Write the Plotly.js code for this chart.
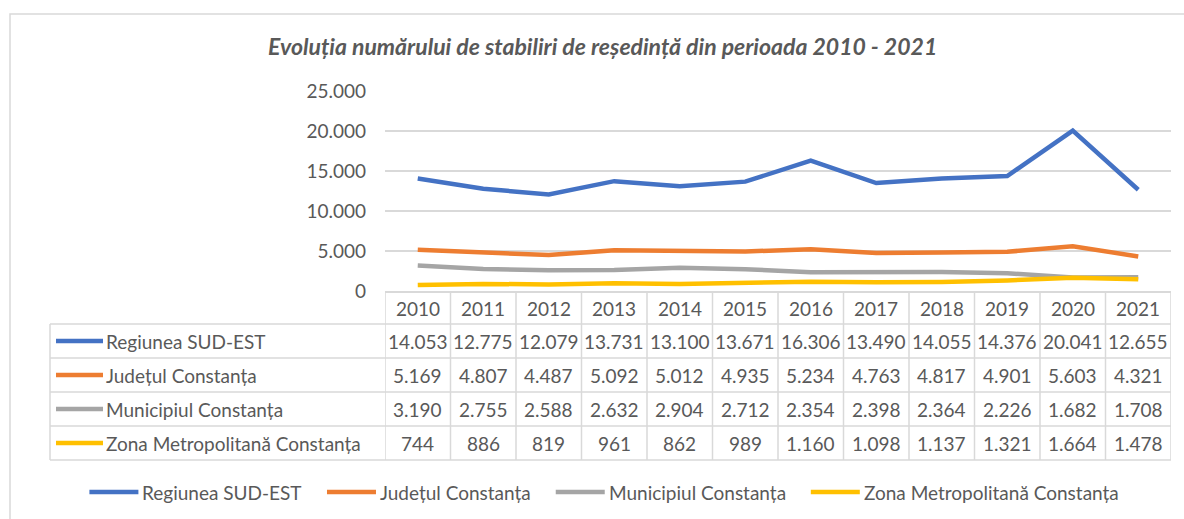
<!DOCTYPE html>
<html>
<head>
<meta charset="utf-8">
<script src="https://cdn.plot.ly/plotly-3.0.1.min.js"></script>
<style>html,body{margin:0;padding:0;background:#fff;}#chart{width:1184px;height:519px;}</style>
</head>
<body>
<div id="chart"></div>
<script>
const years = ['2010','2011','2012','2013','2014','2015','2016','2017','2018','2019','2020','2021'];
const seriesNames = ['Regiunea SUD-EST','Județul Constanța','Municipiul Constanța','Zona Metropolitană Constanța'];
const regiuneaSudEst = [14053,12775,12079,13731,13100,13671,16306,13490,14055,14376,20041,12655];
const judetulConstanta = [5169,4807,4487,5092,5012,4935,5234,4763,4817,4901,5603,4321];
const municipiulConstanta = [3190,2755,2588,2632,2904,2712,2354,2398,2364,2226,1682,1708];
const zonaMetropolitana = [744,886,819,961,862,989,1160,1098,1137,1321,1664,1478];
const seriesValues = [regiuneaSudEst, judetulConstanta, municipiulConstanta, zonaMetropolitana];
const colors = ['#4472C4','#ED7D31','#A5A5A5','#FFC000'];

const FONT = 'Lato, "Open Sans", sans-serif';
const TXT = '#595959';
const GRID = '#D9D9D9';
const FS = 19;

// plot area in pixels
const L = 385, R = 1171, T = 91, B = 291;
const px = X => (X - L) / (R - L);
const py = Y => (B - Y) / (B - T);

function fmt(n){ return String(n).replace(/\B(?=(\d{3})+(?!\d))/g, '.'); }

const measureCtx = document.createElement('canvas').getContext('2d');
measureCtx.font = FS + 'px Lato';
const textW = s => measureCtx.measureText(s).width;

const traces = seriesNames.map((name, i) => ({
  type: 'scatter', mode: 'lines', name: name,
  x: years, y: seriesValues[i],
  line: {color: colors[i], width: 4.5},
  hoverinfo: 'skip'
}));

const shapes = [];
const annotations = [];

// outer frame
shapes.push({type:'rect', xref:'paper', yref:'paper', x0:px(10), x1:px(1200), y0:py(14), y1:py(530),
  line:{color:GRID, width:1.5}, fillcolor:'rgba(0,0,0,0)', layer:'below'});

// table geometry (pixels)
const headerTop = 291, headerBottom = 324;
const rowEdges = [324, 358, 392, 426, 460];
const labelLeft = 50;

rowEdges.forEach(Y => shapes.push({type:'line', xref:'paper', yref:'paper', x0:px(labelLeft), x1:px(R), y0:py(Y), y1:py(Y), line:{color:GRID, width:1.5}}));
for (let i = 0; i <= years.length; i++) {
  shapes.push({type:'line', xref:'x', yref:'paper', x0:i-0.5, x1:i-0.5, y0:py(headerTop), y1:py(rowEdges[rowEdges.length-1]), line:{color:GRID, width:1.5}});
}
shapes.push({type:'line', xref:'paper', yref:'paper', x0:px(labelLeft), x1:px(labelLeft), y0:py(rowEdges[0]), y1:py(rowEdges[rowEdges.length-1]), line:{color:GRID, width:1.5}});

// header labels
years.forEach((yr, c) => annotations.push({xref:'x', yref:'paper', x:c, y:py((headerTop+headerBottom)/2+1), text:yr, showarrow:false,
  xanchor:'center', yanchor:'middle', font:{family:FONT, size:FS, color:TXT}}));

// rows
seriesNames.forEach((name, r) => {
  const cy = (rowEdges[r] + rowEdges[r+1]) / 2;
  shapes.push({type:'line', xref:'paper', yref:'paper', x0:px(56), x1:px(103), y0:py(cy), y1:py(cy), line:{color:colors[r], width:4.5}});
  annotations.push({xref:'paper', yref:'paper', x:px(104), y:py(cy), text:name, showarrow:false, xanchor:'left', yanchor:'middle',
    font:{family:FONT, size:FS, color:TXT}});
  seriesValues[r].forEach((v, c) => annotations.push({xref:'x', yref:'paper', x:c, y:py(cy), text:fmt(v), showarrow:false,
    xanchor:'center', yanchor:'middle', font:{family:FONT, size:FS, color:TXT}}));
});

// legend (Excel style: long line sample directly followed by the name)
const legendY = 492, sampleLen = 49, gapAfterSample = 2, gapBetween = 27;
const legendWidths = seriesNames.map(n => sampleLen + gapAfterSample + textW(n));
const legendTotal = legendWidths.reduce((a, b) => a + b, 0) + gapBetween * (seriesNames.length - 1);
let lx = 603 - legendTotal / 2;
seriesNames.forEach((name, r) => {
  shapes.push({type:'line', xref:'paper', yref:'paper', x0:px(lx), x1:px(lx + sampleLen), y0:py(legendY), y1:py(legendY), line:{color:colors[r], width:4.5}});
  annotations.push({xref:'paper', yref:'paper', x:px(lx + sampleLen + gapAfterSample), y:py(legendY), text:name, showarrow:false,
    xanchor:'left', yanchor:'middle', font:{family:FONT, size:FS, color:TXT}});
  lx += legendWidths[r] + gapBetween;
});

const layout = {
  width: 1184, height: 519,
  margin: {l: L, r: 1184 - R, t: T, b: 519 - B, pad: 0},
  paper_bgcolor: '#fff', plot_bgcolor: '#fff',
  separators: ',.',
  font: {family: FONT, size: FS, color: TXT},
  title: {text: 'Evoluția numărului de stabiliri de reședință din perioada 2010 - 2021',
    x: 0.509, xref: 'container', xanchor: 'center', y: 1 - 47/519, yref: 'container', yanchor: 'middle',
    font: {family: FONT, size: 23, color: TXT, weight: 'bold', style: 'italic'}},
  xaxis: {type: 'category', range: [-0.5, 11.5], showticklabels: false, showgrid: false, zeroline: false,
    showline: true, linecolor: GRID, linewidth: 1.5, ticks: '', fixedrange: true},
  yaxis: {range: [0, 25000], dtick: 5000, tick0: 0, tickformat: ',d', showgrid: true, gridcolor: GRID, gridwidth: 1.5,
    zeroline: false, showline: false, ticks: '', ticklabelstandoff: 18, tickfont: {family: FONT, size: FS, color: TXT}, fixedrange: true},
  showlegend: false,
  shapes: shapes,
  annotations: annotations
};

document.fonts.load(FS + 'px Lato').then(() => {
  Plotly.newPlot('chart', traces, layout, {staticPlot: true, displayModeBar: false});
}).catch(() => {
  Plotly.newPlot('chart', traces, layout, {staticPlot: true, displayModeBar: false});
});
</script>
</body>
</html>
